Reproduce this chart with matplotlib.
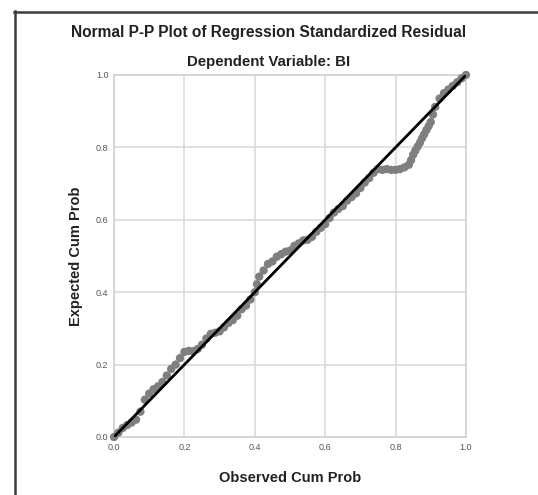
"""Normal P-P plot of regression standardized residual (SPSS style)."""
import matplotlib as mpl
mpl.use("Agg")
import matplotlib.pyplot as plt
from matplotlib.lines import Line2D

mpl.rcParams.update({
    "font.family": ["Liberation Sans", "DejaVu Sans"],
})

# ----------------- Data --------------------------------------------------
observed = [
    0.000, 0.0125, 0.025, 0.0375, 0.050, 0.0625, 0.075, 0.0875, 0.100, 0.1125,
    0.125, 0.1375, 0.150, 0.1625, 0.175, 0.1875, 0.200, 0.2125, 0.225, 0.2375,
    0.250, 0.2625, 0.275, 0.2875, 0.300, 0.3125, 0.325, 0.3375, 0.350, 0.3625,
    0.375, 0.3875, 0.400, 0.406, 0.4125, 0.425, 0.4375, 0.450, 0.4625, 0.475,
    0.4875, 0.500, 0.5125, 0.525, 0.5375, 0.550, 0.5625, 0.575, 0.5875, 0.600,
    0.6125, 0.625, 0.6375, 0.650, 0.6625, 0.675, 0.6875, 0.700, 0.7125, 0.725,
    0.7375, 0.750, 0.7625, 0.775, 0.7875, 0.800, 0.8125, 0.825, 0.8375, 0.844,
    0.850, 0.856, 0.8625, 0.869, 0.875, 0.881, 0.8875, 0.894, 0.900, 0.906,
    0.9125, 0.925, 0.9375, 0.950, 0.9625, 0.975, 0.9875, 1.000,
]
expected = [
    0.000, 0.012, 0.025, 0.033, 0.040, 0.048, 0.070, 0.103, 0.120, 0.132,
    0.140, 0.152, 0.170, 0.188, 0.200, 0.218, 0.235, 0.238, 0.237, 0.243,
    0.255, 0.272, 0.285, 0.288, 0.292, 0.303, 0.315, 0.323, 0.335, 0.353,
    0.363, 0.380, 0.400, 0.422, 0.443, 0.460, 0.478, 0.485, 0.498, 0.505,
    0.512, 0.515, 0.528, 0.535, 0.543, 0.545, 0.553, 0.567, 0.578, 0.588,
    0.605, 0.620, 0.630, 0.638, 0.653, 0.663, 0.673, 0.688, 0.703, 0.715,
    0.730, 0.740, 0.738, 0.740, 0.738, 0.738, 0.740, 0.745, 0.752, 0.765,
    0.780, 0.791, 0.802, 0.813, 0.825, 0.836, 0.848, 0.859, 0.870, 0.891,
    0.912, 0.935, 0.950, 0.960, 0.970, 0.980, 0.991, 1.000,
]
ref_line = [0.0, 1.0]
ticks = [0.0, 0.2, 0.4, 0.6, 0.8, 1.0]
tick_labels = ["0.0", "0.2", "0.4", "0.6", "0.8", "1.0"]

# ----------------- Figure ------------------------------------------------
fig = plt.figure(figsize=(5.38, 4.95), dpi=100)
fig.patch.set_facecolor("white")
ax = fig.add_axes([114 / 538, 1 - 437 / 495, 352 / 538, 362 / 495])

ax.scatter(observed, expected, s=36, color="#7f7f7f", edgecolors="none",
           zorder=3, clip_on=False)
ax.plot(ref_line, ref_line, color="black", linewidth=2.0, zorder=4,
        solid_capstyle="round")

ax.set_xlim(0, 1)
ax.set_ylim(0, 1)
ax.set_xticks(ticks)
ax.set_yticks(ticks)
ax.set_xticklabels(tick_labels)
ax.set_yticklabels(tick_labels)
ax.tick_params(length=0, labelsize=6.5, colors="#555555", pad=4)
ax.grid(True, color="#d8d8d8", linewidth=1.1)
ax.set_axisbelow(True)
for sp in ax.spines.values():
    sp.set_color("#cfcfcf")
    sp.set_linewidth(1.1)

ax.set_xlabel("Observed Cum Prob", fontsize=10.5, fontweight="bold",
              color="#222222", labelpad=14)
ax.set_ylabel("Expected Cum Prob", fontsize=10.5, fontweight="bold",
              color="#222222", labelpad=9)

fig.text(0.5, 1 - 33 / 495, "Normal P-P Plot of Regression Standardized Residual",
         ha="center", va="center", fontsize=11.2, fontweight="bold", color="#222222")
fig.text(0.5, 1 - 62 / 495, "Dependent Variable: BI",
         ha="center", va="center", fontsize=10.8, fontweight="bold", color="#222222")

# outer frame (top and left edges visible in the reference)
fig.add_artist(Line2D([14 / 538, 1.0], [1 - 11.5 / 495, 1 - 11.5 / 495],
                      transform=fig.transFigure, color="#3c3c3c", linewidth=1.8))
fig.add_artist(Line2D([14.5 / 538, 14.5 / 538], [0.0, 1 - 11 / 495],
                      transform=fig.transFigure, color="#3c3c3c", linewidth=1.8))

fig.savefig("out.png", dpi=100)
